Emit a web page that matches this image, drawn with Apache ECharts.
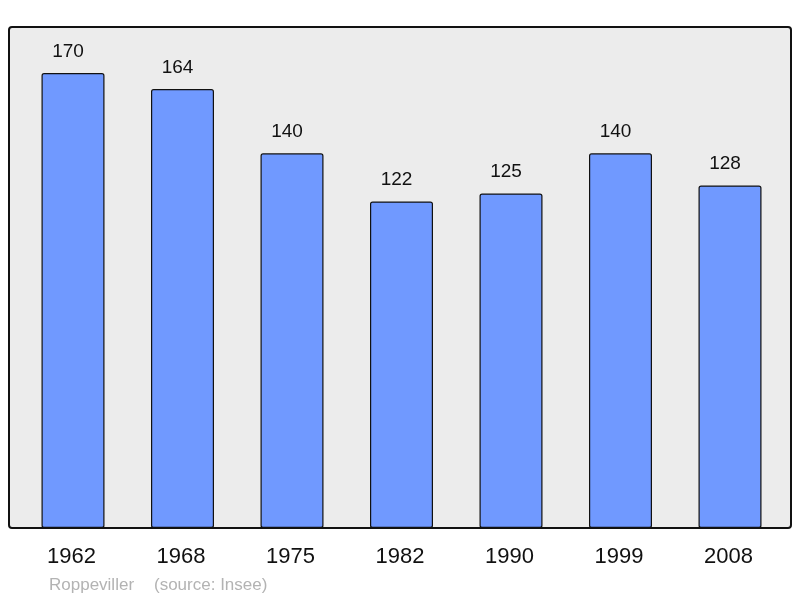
<!DOCTYPE html>
<html><head><meta charset="utf-8">
<script src="https://cdn.jsdelivr.net/npm/echarts@6/dist/echarts.min.js"></script>
<style>html,body{margin:0;padding:0;background:#fff}#c{width:800px;height:598px}</style>
</head><body><div id="c"></div>
<script>
const years = ['1962','1968','1975','1982','1990','1999','2008'];
const population = [170,164,140,122,125,140,128];

const chart = echarts.init(document.getElementById('c'), null, {renderer:'canvas'});
chart.setOption({
  animation: false,
  backgroundColor: '#ffffff',
  grid: {left: 18.25, right: 15.25, top: 27, bottom: 70},
  xAxis: {
    type: 'category', data: years, boundaryGap: true,
    axisLine: {show: false}, axisTick: {show: false},
    axisLabel: {color: '#111', fontFamily: 'Liberation Sans, Arial, sans-serif', fontSize: 22, margin: 18,
                padding: [0, 3, 0, 0]}
  },
  yAxis: {type: 'value', min: 0, max: 187.2, show: false, splitLine: {show: false}},
  graphic: [
    {type: 'rect', z: -10, shape: {x: 9, y: 27, width: 782, height: 501, r: 3},
     style: {fill: '#ececec', stroke: '#111', lineWidth: 2}},
    {type: 'text', left: 49, top: 577, style: {text: 'Roppeviller', fill: '#b3b3b3', font: '17px "Liberation Sans", Arial, sans-serif'}},
    {type: 'text', left: 154, top: 577, style: {text: '(source: Insee)', fill: '#b3b3b3', font: '17px "Liberation Sans", Arial, sans-serif'}}
  ],
  series: [{
    type: 'bar', data: population, barWidth: 63,
    itemStyle: {color: '#7099ff', borderColor: '#111', borderWidth: 1.2, borderRadius: 2},
    label: {show: true, position: 'top', distance: 12, offset: [-5, 0], color: '#111', fontSize: 19,
            fontFamily: 'Liberation Sans, Arial, sans-serif'}
  }]
});
</script></body></html>
